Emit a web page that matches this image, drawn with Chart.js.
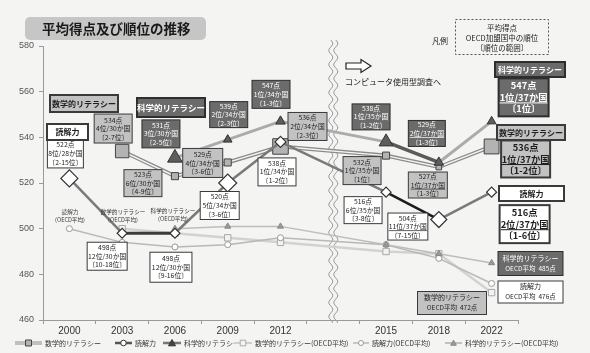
<!DOCTYPE html>
<html>
<head>
<meta charset="utf-8">
<script src="https://cdn.jsdelivr.net/npm/chart.js@4.4.0/dist/chart.umd.min.js"></script>
<style>
  html, body { margin: 0; padding: 0; background: #f4f4f2; }
  #wrap { width: 590px; height: 353px; }
</style>
</head>
<body>
<div id="wrap"><canvas id="pisaChart"></canvas></div>
<script>
// 調査年 (index 5 は調査方式の切れ目)
const years = ['2000', '2003', '2006', '2009', '2012', '', '2015', '2018', '2022'];

// 日本の平均得点
const mathScore = [null, 534, 523, 529, 536, null, 532, 527, 536];
const readingScore = [522, 498, 498, 520, 538, null, 516, 504, 516];
const scienceScore = [null, null, 531, 539, 547, null, 538, 529, 547];

// OECD平均
const mathOecd = [null, 500, 498, 496, 494, null, 490, 489, 472];
const readingOecd = [500, 494, 492, 493, 496, null, 493, 487, 476];
const scienceOecd = [null, null, 500, 501, 501, null, 493, 489, 485];

// OECD加盟国中の順位と順位の範囲
const mathRank = [null, '4位/30か国', '6位/30か国', '4位/34か国', '2位/34か国', null, '1位/35か国', '1位/37か国', '1位/37か国'];
const mathRange = [null, '2-7位', '4-9位', '3-6位', '2-3位', null, '1位', '1-3位', '1-2位'];
const readingRank = ['8位/28か国', '12位/30か国', '12位/30か国', '5位/34か国', '1位/34か国', null, '6位/35か国', '11位/37か国', '2位/37か国'];
const readingRange = ['2-15位', '10-18位', '9-16位', '3-6位', '1-2位', null, '3-8位', '7-15位', '1-6位'];
const scienceRank = [null, null, '3位/30か国', '2位/34か国', '1位/34か国', null, '1位/35か国', '2位/37か国', '1位/37か国'];
const scienceRange = [null, null, '2-5位', '2-3位', '1-3位', null, '1-2位', '1-3位', '1位'];

const seriesInfo = {
  math: { name: '数学的リテラシー', vals: mathScore, rank: mathRank, range: mathRange, oecd: mathOecd, kind: 'gray' },
  reading: { name: '読解力', vals: readingScore, rank: readingRank, range: readingRange, oecd: readingOecd, kind: 'white' },
  science: { name: '科学的リテラシー', vals: scienceScore, rank: scienceRank, range: scienceRange, oecd: scienceOecd, kind: 'dark' }
};

const boxStyles = {
  gray: { fill: '#c2c2c2', stroke: '#3a3a3a', text: '#1e1e1e' },
  dark: { fill: '#6b6b6b', stroke: '#2e2e2e', text: '#ffffff' },
  white: { fill: '#ffffff', stroke: '#3a3a3a', text: '#1e1e1e' }
};

// 得点ボックス: 点からのずれ (dx, dy) と大きさ
const notes = [
  { key: 'reading', i: 0, dx: -4, dy: -25, w: 36, h: 29 },
  { key: 'reading', i: 1, dx: -15, dy: 23, w: 40, h: 28 },
  { key: 'reading', i: 2, dx: -4, dy: 34, w: 42, h: 30 },
  { key: 'reading', i: 3, dx: -8, dy: 22.5, w: 39, h: 28 },
  { key: 'reading', i: 4, dx: -3.5, dy: 30, w: 38, h: 28 },
  { key: 'reading', i: 6, dx: -23, dy: 18, w: 38, h: 27 },
  { key: 'reading', i: 7, dx: -31, dy: 7, w: 40, h: 27 },
  { key: 'reading', i: 8, dx: 33, dy: 32, w: 50, h: 38, big: true },
  { key: 'math', i: 1, dx: -9, dy: -22.5, w: 38, h: 29 },
  { key: 'math', i: 2, dx: -32, dy: 7, w: 38, h: 27 },
  { key: 'math', i: 3, dx: -25, dy: 0.5, w: 40, h: 29 },
  { key: 'math', i: 4, dx: 27, dy: -20, w: 39, h: 28 },
  { key: 'math', i: 6, dx: -24, dy: 15, w: 38, h: 28 },
  { key: 'math', i: 7, dx: -11, dy: 18, w: 39, h: 26 },
  { key: 'math', i: 8, dx: 34, dy: 12.5, w: 49, h: 37, big: true },
  { key: 'science', i: 2, dx: -14, dy: -24, w: 38, h: 28 },
  { key: 'science', i: 3, dx: 1, dy: -25, w: 38, h: 26 },
  { key: 'science', i: 4, dx: -9.5, dy: -27, w: 38, h: 28 },
  { key: 'science', i: 6, dx: -15, dy: -25, w: 38, h: 26 },
  { key: 'science', i: 7, dx: -12, dy: -29, w: 37, h: 26 },
  { key: 'science', i: 8, dx: 32, dy: -24, w: 50, h: 38, big: true }
];

// 分野名のラベル
const tags = [
  { key: 'math', x: 84, y: 103.5, w: 68, h: 17, size: 8 },
  { key: 'science', x: 171, y: 107.5, w: 68, h: 19, size: 8.5 },
  { key: 'reading', x: 67.5, y: 132, w: 41, h: 16, size: 8 },
  { key: 'science', x: 530, y: 69.5, w: 70, h: 15, size: 8 },
  { key: 'math', x: 531, y: 132.5, w: 68, h: 15, size: 8 },
  { key: 'reading', x: 531.5, y: 193.5, w: 65, h: 15, size: 8 }
];

// OECD平均のラベル (2022年)
const oecdNotes = [
  { key: 'science', x: 530.5, y: 263.5, w: 65, h: 24 },
  { key: 'reading', x: 530.5, y: 292, w: 65, h: 22 },
  { key: 'math', x: 452, y: 303, w: 69, h: 23 }
];

const jp = "'Noto Sans CJK JP', 'Noto Sans', sans-serif";
const isGap = ctx => ctx.p0DataIndex === 4;

function box(c, cx, cy, w, h, kind, lw) {
  const st = boxStyles[kind];
  c.save();
  c.fillStyle = st.fill;
  c.fillRect(cx - w / 2, cy - h / 2, w, h);
  c.strokeStyle = st.stroke;
  c.lineWidth = lw || 1;
  c.strokeRect(cx - w / 2, cy - h / 2, w, h);
  c.restore();
}

function text(c, str, x, y, size, color, weight, align) {
  c.save();
  c.font = (weight || 'normal') + ' ' + size + 'px ' + jp;
  c.fillStyle = color;
  c.textAlign = align || 'center';
  c.textBaseline = 'middle';
  c.fillText(str, x, y);
  c.restore();
}

function marker(c, style, x, y, r, fill, stroke) {
  c.save();
  c.beginPath();
  if (style === 'rect') c.rect(x - r, y - r, 2 * r, 2 * r);
  else if (style === 'diamond') { c.moveTo(x, y - r); c.lineTo(x + r, y); c.lineTo(x, y + r); c.lineTo(x - r, y); c.closePath(); }
  else if (style === 'triangle') { c.moveTo(x, y - r); c.lineTo(x + r, y + r * 0.8); c.lineTo(x - r, y + r * 0.8); c.closePath(); }
  else c.arc(x, y, r, 0, Math.PI * 2);
  c.fillStyle = fill; c.fill();
  c.strokeStyle = stroke; c.lineWidth = 1; c.stroke();
  c.restore();
}

const decor = {
  id: 'decor',
  beforeDraw(chart) {
    const c = chart.ctx;
    c.save();
    c.fillStyle = '#f4f4f2';
    c.fillRect(0, 0, chart.width, chart.height);
    c.restore();
  },
  beforeDatasetsDraw(chart) {
    // 波線 (調査方式の切れ目)
    const c = chart.ctx;
    const bx = chart.scales.x.getPixelForValue(5);
    c.save();
    c.strokeStyle = '#9c9c9c';
    c.lineWidth = 1;
    [-2.5, 2.5].forEach(off => {
      c.beginPath();
      for (let y = 40; y <= 323; y += 1) {
        const x = bx + off + 2 * Math.sin((y - 40) / 14 * Math.PI * 2);
        if (y === 40) c.moveTo(x, y); else c.lineTo(x, y);
      }
      c.stroke();
    });
    c.restore();
  },
  afterDraw(chart) {
    const c = chart.ctx;
    const xs = chart.scales.x, ys = chart.scales.y;

    // タイトル
    c.save();
    c.fillStyle = '#c6c6c6';
    c.beginPath();
    c.roundRect(25, 17, 181, 23, 5);
    c.fill();
    c.restore();
    text(c, '平均得点及び順位の推移', 42, 29, 13.5, '#1a1a1a', 'bold', 'left');

    // 凡例ボックス
    text(c, '凡例', 440, 41, 8, '#222');
    c.save();
    c.setLineDash([2, 2]);
    c.strokeStyle = '#555';
    c.lineWidth = 1;
    c.strokeRect(455.5, 19.5, 93, 35);
    c.restore();
    text(c, '平均得点', 502, 28, 7.5, '#222');
    text(c, 'OECD加盟国中の順位', 502, 38, 7.5, '#222');
    text(c, '〔順位の範囲〕', 502, 48, 7.5, '#222');

    // 矢印と説明
    c.save();
    c.beginPath();
    c.moveTo(346, 63); c.lineTo(361, 63); c.lineTo(361, 59.5); c.lineTo(371, 66);
    c.lineTo(361, 72.5); c.lineTo(361, 69); c.lineTo(346, 69); c.closePath();
    c.fillStyle = '#fff'; c.fill();
    c.strokeStyle = '#222'; c.lineWidth = 1.2; c.stroke();
    c.restore();
    text(c, 'コンピュータ使用型調査へ', 345, 82, 8, '#222', 'normal', 'left');

    // 得点ボックス
    notes.forEach(n => {
      const s = seriesInfo[n.key];
      const px = xs.getPixelForValue(n.i), py = ys.getPixelForValue(s.vals[n.i]);
      const cx = px + n.dx, cy = py + n.dy;
      const st = boxStyles[s.kind];
      box(c, cx, cy, n.w, n.h, s.kind, n.big ? 2 : 1);
      const size = n.big ? 9.3 : 6.8;
      const gap = n.big ? 11.5 : 8.6;
      const weight = n.big ? 'bold' : 'normal';
      text(c, s.vals[n.i] + '点', cx, cy - gap, size, st.text, weight);
      text(c, s.rank[n.i], cx, cy, size, st.text, weight);
      text(c, '〔' + s.range[n.i] + '〕', cx, cy + gap, size, st.text, weight);
      if (s.rank[n.i].indexOf('/37') >= 0) {
        c.save();
        c.font = weight + ' ' + size + 'px ' + jp;
        const tw = c.measureText(s.rank[n.i]).width;
        c.strokeStyle = st.text;
        c.lineWidth = n.big ? 1 : 0.7;
        c.beginPath();
        c.moveTo(cx - tw / 2, cy + size * 0.6);
        c.lineTo(cx + tw / 2, cy + size * 0.6);
        c.stroke();
        c.restore();
      }
    });

    // 分野名ラベル
    tags.forEach(t => {
      const s = seriesInfo[t.key];
      box(c, t.x, t.y, t.w, t.h, s.kind, 2);
      text(c, s.name, t.x, t.y, t.size, boxStyles[s.kind].text, 'bold');
    });

    // OECD平均ラベル
    oecdNotes.forEach(t => {
      const s = seriesInfo[t.key];
      box(c, t.x, t.y, t.w, t.h, s.kind, 1);
      const col = boxStyles[s.kind].text;
      text(c, s.name, t.x, t.y - 5.5, 7, col);
      text(c, 'OECD平均  ' + s.oecd[s.oecd.length - 1] + '点', t.x, t.y + 5, 6.5, col);
    });

    // 左側のOECD平均の注記
    [['reading', 70, 212], ['math', 123, 212], ['science', 173, 211]].forEach(([k, x, y]) => {
      text(c, seriesInfo[k].name, x, y, 5.6, '#333');
      text(c, '(OECD平均)', x, y + 8, 5.6, '#333');
    });

    // 下部の凡例
    const ly = 343;
    const items = [
      { x0: 15, x1: 42, line: '#8c8c8c', lw: 3, m: 'rect', r: 3, fill: '#b3b3b3', stroke: '#444', label: '数学的リテラシー', inner: true },
      { x0: 115, x1: 132, line: '#555', lw: 2.5, m: 'circle', r: 2.8, fill: '#fff', stroke: '#333', label: '読解力' },
      { x0: 163, x1: 181, line: '#777', lw: 2.5, m: 'triangle', r: 3.5, fill: '#444', stroke: '#333', label: '科学的リテラシー' },
      { x0: 234, x1: 252, line: '#cfcfcf', lw: 2, m: 'rect', r: 2.8, fill: '#f4f4f4', stroke: '#aaa', label: '数学的リテラシー(OECD平均)' },
      { x0: 353, x1: 369, line: '#b8b8b8', lw: 1.5, m: 'circle', r: 2.5, fill: '#fff', stroke: '#999', label: '読解力(OECD平均)' },
      { x0: 445, x1: 462, line: '#b0b0b0', lw: 1.5, m: 'triangle', r: 2.8, fill: '#999', stroke: '#888', label: '科学的リテラシー(OECD平均)' }
    ];
    items.forEach(it => {
      c.save();
      c.strokeStyle = it.line; c.lineWidth = it.lw;
      c.beginPath(); c.moveTo(it.x0, ly); c.lineTo(it.x1, ly); c.stroke();
      if (it.inner) {
        c.strokeStyle = '#f4f4f4'; c.lineWidth = 1;
        c.beginPath(); c.moveTo(it.x0, ly); c.lineTo(it.x1, ly); c.stroke();
      }
      c.restore();
      marker(c, it.m, (it.x0 + it.x1) / 2, ly, it.r, it.fill, it.stroke);
      text(c, it.label, it.x1 + 3, ly, 7, '#333', 'normal', 'left');
    });
  }
};

const ctx = document.getElementById('pisaChart').getContext('2d');
const pisaChart = new Chart(ctx, {
  type: 'line',
  data: {
    labels: years,
    datasets: [
      {
        label: '数学的リテラシー(OECD平均)',
        data: mathOecd,
        order: 12,
        spanGaps: true,
        borderColor: '#d2d2d2',
        borderWidth: 2.5,
        segment: {
          borderDash: c => isGap(c) ? [2, 2.5] : undefined,
          borderColor: c => isGap(c) ? '#bbbbbb' : undefined,
          borderWidth: c => isGap(c) ? 1.6 : undefined
        },
        pointStyle: 'rect',
        pointRadius: 4.5,
        pointBackgroundColor: '#f2f2f2',
        pointBorderColor: '#a8a8a8',
        pointBorderWidth: 1
      },
      {
        label: '読解力(OECD平均)',
        data: readingOecd,
        order: 11,
        spanGaps: true,
        borderColor: '#b8b8b8',
        borderWidth: 1.5,
        segment: {
          borderDash: c => isGap(c) ? [2, 2.5] : undefined,
          borderColor: c => isGap(c) ? '#aaaaaa' : undefined
        },
        pointStyle: 'circle',
        pointRadius: 3,
        pointBackgroundColor: '#ffffff',
        pointBorderColor: '#999999',
        pointBorderWidth: 1
      },
      {
        label: '科学的リテラシー(OECD平均)',
        data: scienceOecd,
        order: 10,
        spanGaps: true,
        borderColor: '#bdbdbd',
        borderWidth: 1.5,
        segment: {
          borderDash: c => isGap(c) ? [2, 2.5] : undefined,
          borderColor: c => isGap(c) ? '#aaaaaa' : undefined
        },
        pointStyle: 'triangle',
        pointRadius: 3.5,
        pointBackgroundColor: '#9a9a9a',
        pointBorderColor: '#888888',
        pointBorderWidth: 1
      },
      {
        label: '数学的リテラシー',
        data: mathScore,
        order: 9,
        spanGaps: true,
        borderColor: '#8c8c8c',
        borderWidth: 4,
        segment: {
          borderDash: c => isGap(c) ? [2, 2.5] : undefined,
          borderColor: c => isGap(c) ? '#555555' : undefined,
          borderWidth: c => isGap(c) ? 2 : undefined
        },
        pointRadius: 0
      },
      {
        label: 'math-inner',
        data: mathScore,
        order: 8,
        spanGaps: true,
        borderColor: '#f4f4f4',
        borderWidth: 1.4,
        segment: {
          borderColor: c => isGap(c) ? 'rgba(0,0,0,0)' : undefined
        },
        pointRadius: 0
      },
      {
        label: 'math-points',
        data: mathScore,
        order: 7,
        showLine: false,
        pointStyle: 'rect',
        pointRadius: [0, 9.5, 5, 5, 11, 0, 5, 4, 10.5],
        pointBackgroundColor: '#b3b3b3',
        pointBorderColor: '#444444',
        pointBorderWidth: 1
      },
      {
        label: '科学的リテラシー',
        data: scienceScore,
        order: 6,
        spanGaps: true,
        borderColor: '#ababab',
        borderWidth: 3,
        segment: {
          borderDash: c => isGap(c) ? [2, 2.5] : undefined,
          borderColor: c => isGap(c) ? '#555555' : (c.p0DataIndex === 6 ? '#5a5a5a' : undefined),
          borderWidth: c => isGap(c) ? 2 : (c.p0DataIndex === 6 ? 3.5 : undefined)
        },
        pointStyle: 'triangle',
        pointRadius: [0, 0, 8.5, 5, 5.5, 0, 8, 5.5, 5],
        pointBackgroundColor: '#5e5e5e',
        pointBorderColor: '#333333',
        pointBorderWidth: 1
      },
      {
        label: '読解力',
        data: readingScore,
        order: 5,
        spanGaps: true,
        borderColor: '#7a7a7a',
        borderWidth: 2.5,
        segment: {
          borderDash: c => isGap(c) ? [2, 2.5] : undefined,
          borderColor: c => isGap(c) ? '#555555' : (c.p0DataIndex === 1 ? '#3c3c3c' : c.p0DataIndex === 6 ? '#1c1c1c' : undefined),
          borderWidth: c => isGap(c) ? 2 : (c.p0DataIndex === 1 ? 3 : undefined)
        },
        pointStyle: 'rectRot',
        pointRadius: [8.5, 5, 5, 9, 5.5, 0, 5, 8, 5],
        pointBackgroundColor: '#ffffff',
        pointBorderColor: '#333333',
        pointBorderWidth: 1.2
      }
    ]
  },
  options: {
    responsive: true,
    maintainAspectRatio: false,
    animation: false,
    events: [],
    layout: { padding: { top: 46, right: 72, bottom: 0, left: 0 } },
    plugins: {
      legend: { display: false },
      tooltip: { enabled: false }
    },
    scales: {
      x: {
        offset: true,
        afterFit: s => { s.height = 33; },
        grid: { offset: true, drawOnChartArea: false, tickLength: 4, color: '#9a9a9a' },
        border: { color: '#9a9a9a' },
        ticks: { color: '#333', padding: 1, font: { size: 10, family: "'Liberation Sans', Arial, sans-serif" }, maxRotation: 0, autoSkip: false }
      },
      y: {
        min: 460,
        max: 580,
        afterFit: s => { s.width = 43; },
        grid: { drawOnChartArea: false, tickLength: 4, color: '#9a9a9a' },
        border: { color: '#9a9a9a' },
        ticks: { stepSize: 20, color: '#555', padding: 5, font: { size: 9, family: "'Liberation Sans', Arial, sans-serif" } }
      }
    }
  },
  plugins: [decor]
});
</script>
</body>
</html>
